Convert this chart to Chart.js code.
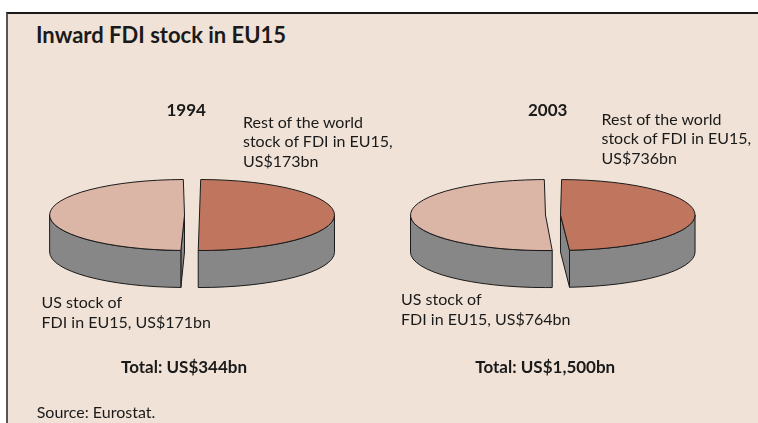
<!DOCTYPE html>
<html>
<head>
<meta charset="utf-8">
<script src="https://cdn.jsdelivr.net/npm/chart.js@4.4.0/dist/chart.umd.min.js"></script>
<style>
html, body { margin: 0; padding: 0; background: #fff; width: 758px; height: 423px; overflow: hidden; }
body { font-family: Lato, 'Open Sans', sans-serif; color: #1a1a1a; }
#panel { position: absolute; left: 6px; top: 12px; width: 750px; height: 411px; background: #f0e2d6;
         border-top: 2px solid #1a1a1a; border-left: 2px solid #555; }
.t { position: absolute; white-space: nowrap; line-height: 1; }
canvas { position: absolute; }
</style>
</head>
<body>
<div id="panel"></div>
<canvas id="pie1994" width="300" height="300" style="left:42px;top:65px"></canvas>
<canvas id="pie2003" width="300" height="300" style="left:403px;top:65px"></canvas>
<script>
const years = ['1994', '2003'];
const categories = ['Rest of the world stock of FDI in EU15', 'US stock of FDI in EU15'];
const restOfWorld = [173, 736];   // US$bn
const usStock = [171, 764];       // US$bn
const totals = [344, 1500];       // US$bn
const sliceColors = ['#c0765e', '#dbb6a7'];

const TILT = 0.263, DEPTH = 37, SIDE = '#878787', LINE = '#1a1a1a';

// slice geometry exactly as ArcElement.draw / pathArc lay it out (offset moves & grows the slice)
function geom(arc) {
    const p = arc.getProps(['x', 'y', 'startAngle', 'endAngle', 'outerRadius', 'circumference']);
    const off = (arc.options.offset || 0) / 4;
    const half = (p.startAngle + p.endAngle) / 2;
    const fix = 1 - Math.sin(Math.min(Math.PI, p.circumference || 0));
    const ro = off * fix;
    const r = p.outerRadius + ro;
    const alpha = p.endAngle - p.startAngle;
    const beta = Math.max(0.001, alpha * r - ro / Math.PI) / r;
    const ao = (alpha - beta) / 2;
    return { ox: p.x + Math.cos(half) * off, oy: p.y + Math.sin(half) * off * TILT,
             r: r, s: p.startAngle + ao, e: p.endAngle - ao };
}

const pie3d = {
    id: 'pie3d',
    beforeDatasetsDraw(chart) {
        const ctx = chart.ctx;
        const arcs = chart.getDatasetMeta(0).data;
        ctx.save();
        ctx.fillStyle = SIDE;
        ctx.strokeStyle = LINE;
        ctx.lineWidth = 1;
        arcs.forEach(arc => {
            const g = geom(arc);
            const ry = g.r * TILT;
            // cut faces that turn towards the viewer
            [[g.s, Math.cos(g.s) < -1e-6], [g.e, Math.cos(g.e) > 1e-6]].forEach(([a, vis]) => {
                if (!vis) return;
                const px = g.ox + g.r * Math.cos(a), py = g.oy + ry * Math.sin(a);
                ctx.beginPath();
                ctx.moveTo(g.ox, g.oy);
                ctx.lineTo(px, py);
                ctx.lineTo(px, py + DEPTH);
                ctx.lineTo(g.ox, g.oy + DEPTH);
                ctx.closePath();
                ctx.fill();
                ctx.stroke();
            });
            // outer wall, front half only
            for (const n of [-2 * Math.PI, 0, 2 * Math.PI]) {
                const a = Math.max(g.s, n), b = Math.min(g.e, n + Math.PI);
                if (b <= a) continue;
                ctx.beginPath();
                ctx.ellipse(g.ox, g.oy, g.r, ry, 0, a, b);
                ctx.ellipse(g.ox, g.oy + DEPTH, g.r, ry, 0, b, a, true);
                ctx.closePath();
                ctx.fill();
                ctx.stroke();
            }
        });
        ctx.restore();
        // squash the chart's own slices into the top face
        const y = arcs[0].y;
        ctx.save();
        ctx.translate(0, y);
        ctx.scale(1, TILT);
        ctx.translate(0, -y);
    },
    afterDatasetsDraw(chart) {
        const ctx = chart.ctx;
        ctx.restore();
        ctx.save();
        ctx.strokeStyle = LINE;
        ctx.lineWidth = 1;
        chart.getDatasetMeta(0).data.forEach(arc => {
            const g = geom(arc);
            ctx.beginPath();
            ctx.moveTo(g.ox, g.oy);
            ctx.ellipse(g.ox, g.oy, g.r, g.r * TILT, 0, g.s, g.e);
            ctx.closePath();
            ctx.stroke();
        });
        ctx.restore();
    }
};

function drawPie(canvasId, values) {
    new Chart(document.getElementById(canvasId), {
        type: 'pie',
        data: {
            labels: categories,
            datasets: [{
                data: values,
                backgroundColor: sliceColors,
                borderWidth: 0,
                offset: 30,
                clip: false
            }]
        },
        options: {
            responsive: false,
            animation: false,
            radius: 127.5,
            layout: { padding: 0 },
            plugins: { legend: { display: false }, tooltip: { enabled: false } }
        },
        plugins: [pie3d]
    });
}

drawPie('pie1994', [restOfWorld[0], usStock[0]]);
drawPie('pie2003', [restOfWorld[1], usStock[1]]);

// text, placed by baseline
function label(text, x, baseline, size, bold, align) {
    const d = document.createElement('div');
    d.className = 't';
    d.textContent = text;
    d.style.fontSize = size + 'px';
    d.style.fontWeight = bold ? '700' : '400';
    d.style.top = (baseline - 0.887 * size) + 'px';
    document.body.appendChild(d);
    if (align === 'center') d.style.left = (x - d.offsetWidth / 2) + 'px';
    else d.style.left = x + 'px';
}
const bn = v => 'US$' + v.toLocaleString('en-US') + 'bn';

label('Inward FDI stock in EU15', 36, 43.5, 22, true);

const yearX = [186, 547.5], yearBase = [116, 116];
const restX = [243, 601.5], restBase = [128, 125];
const usX = [41.5, 401], usBase = [308.3, 305];
const totalX = [184, 545.3];

years.forEach((yr, i) => {
    label(yr, yearX[i], yearBase[i], 17, true, 'center');
    label('Rest of the world', restX[i], restBase[i], 16);
    label('stock of FDI in EU15,', restX[i], restBase[i] + 19.5, 16);
    label(bn(restOfWorld[i]), restX[i], restBase[i] + 39, 16);
    label('US stock of', usX[i], usBase[i], 16);
    label('FDI in EU15, ' + bn(usStock[i]), usX[i], usBase[i] + 20, 16);
    label('Total: ' + bn(totals[i]), totalX[i], 373, 17, true, 'center');
});

label('Source: Eurostat.', 36.7, 418, 16);
</script>
</body>
</html>
